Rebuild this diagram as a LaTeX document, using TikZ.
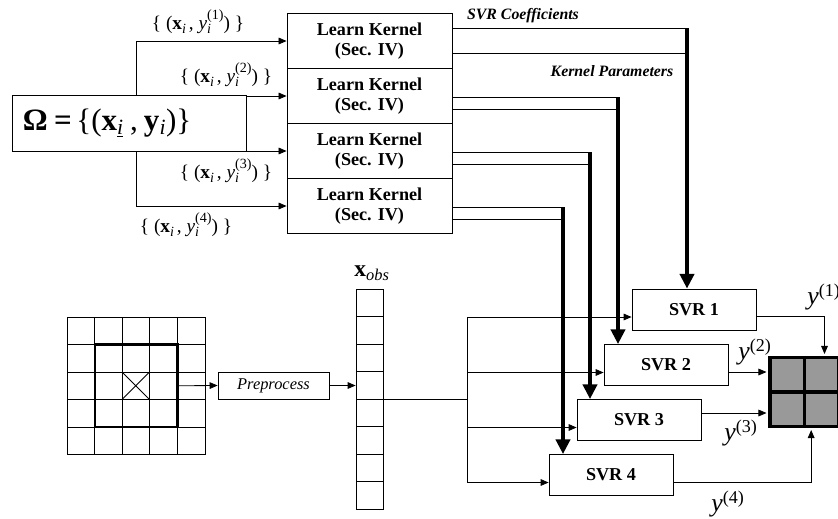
\documentclass[tikz,border=0pt]{standalone}
\usepackage{fontspec}
\setmainfont{Liberation Serif}
\usetikzlibrary{arrows.meta}

\newcommand{\yisup}[1]{\textit{y}\rlap{\raisebox{-0.22em}{\fontsize{12}{13}\selectfont\textit{i}}}\raisebox{0.5em}{\fontsize{12}{13}\selectfont(#1)}}
\newcommand{\xisub}{\textbf{x}\raisebox{-0.22em}{\fontsize{12}{13}\selectfont\textit{i}}}

\tikzset{
  box/.style={draw, fill=white, inner sep=0pt},
  lkbox/.style={box, minimum width=4.95cm, minimum height=1.65cm, align=center, font=\fontsize{15.5}{17}\selectfont\bfseries},
  svrbox/.style={box, minimum width=3.72cm, minimum height=1.23cm, font=\fontsize{15.5}{18}\selectfont\bfseries},
  lbl/.style={inner sep=0pt, font=\fontsize{16.5}{18}\selectfont},
  ylbl/.style={inner sep=0pt, font=\fontsize{22}{24}\selectfont},
  tag/.style={inner sep=0pt, font=\fontsize{13.5}{16}\selectfont\bfseries\itshape},
  arr/.style={-{Triangle[length=2.4mm,width=2mm]}},
  fat/.style={-{Triangle[length=4.4mm,width=4.2mm]}, line width=4pt},
}

\begin{document}
\begin{tikzpicture}[x=0.03cm, y=-0.03cm, line width=0.7pt]
\useasboundingbox (0,0) rectangle (838,518);

% learn kernel
\foreach \n/\y in {1/41,2/96,3/151,4/206}
  \node[lkbox] (lk\n) at (369.5,\y) {Learn Kernel\\(Sec. IV)};

\coordinate (t1) at (136,41);
\coordinate (t4) at (136,206);
\draw (t1) -- (t4);
\foreach \n in {1,...,4}
  \draw[arr] (t1 |- lk\n.west) -- (lk\n.west);

\node[box, minimum width=7.02cm, minimum height=1.68cm, text width=6.36cm, align=left, inner xsep=0.33cm, font=\fontsize{26.5}{30}\selectfont] (om) at (129,123)
  {\textbf{Ω}\hspace{0.2em}\textbf{=}\hspace{0.15em}\{(\textbf{x}\textsubscript{\underline{\textit{i}}}\hspace{0.2em},\hspace{0.2em}\textbf{y}\textsubscript{\textit{i}})\}};

\node[lbl] (d1) at (198,22) {\{ (\xisub\hspace{0.15em}, \yisup{1}) \}};
\node[lbl] (d2) at (226,75) {\{ (\xisub\hspace{0.15em}, \yisup{2}) \}};
\node[lbl] (d3) at (226,171) {\{ (\xisub\hspace{0.15em}, \yisup{3}) \}};
\node[lbl] (d4) at (186,225) {\{ (\xisub\hspace{0.15em}, \yisup{4}) \}};

\node[tag] (coef) at (523,16) {SVR Coefficients};
\node[tag] (kpar) at (612,71) {Kernel Parameters};

% svr
\foreach \n/\x/\y in {1/694/309.5, 2/666/365, 3/639/420, 4/611/475}
  \node[svrbox] (svr\n) at (\x,\y) {SVR \n};

% image patch
\node[draw, inner sep=0pt, minimum size=4.125cm] (img) at (136.25,385.75) {};
\foreach \i in {1,...,4} {
  \draw (67+27.5*\i,317) -- (67+27.5*\i,454.5);
  \draw (67,317+27.5*\i) -- (204.5,317+27.5*\i);
}
\node[draw, inner sep=0pt, line width=2.2pt, minimum size=2.475cm] (win) at (img.center) {};
\draw (122,372) -- (149.5,399.5) (122,399.5) -- (149.5,372);

\node[box, minimum width=3.33cm, minimum height=0.81cm, font=\fontsize{14}{16}\selectfont\itshape] (pre) at (273.5,385.5) {Preprocess};
\draw[arr] (win.east) -- (pre.west);

\node[box, minimum width=0.81cm, minimum height=6.6cm] (xobs) at (369.5,399) {};
\foreach \i in {1,...,7}
  \draw (356,289+27.5*\i) -- (383,289+27.5*\i);
\node[inner sep=0pt, font=\fontsize{20}{22}\selectfont] (xlab) at (372,273) {\textbf{x}\textsubscript{\textit{obs}}};
\draw[arr] (pre.east) -- (pre.east -| xobs.west);

% inputs to svr
\coordinate (j) at (467,399);
\draw (xobs.east |- j) -- (j);
\foreach \n in {1,...,4} {
  \coordinate (i\n) at ([yshift=-2.25mm]svr\n.west);
  \draw[arr] (j |- i\n) -- (i\n);
}
\draw (j |- i1) -- (j |- i4);

% kernel outputs
\foreach \n/\x/\ya/\yb in {1/687/28/53, 2/618/97/109, 3/590/152/164, 4/563/207/219} {
  \coordinate (a\n) at (\x,\ya);
  \coordinate (b\n) at (\x,\yb);
  \draw (lk\n.east |- a\n) -- (a\n);
  \draw (lk\n.east |- b\n) -- (b\n);
  \draw[fat] (a\n) -- (a\n |- svr\n.north);
}

% output patch
\node[draw, fill=black!40, line width=3pt, inner sep=0pt, minimum size=2.07cm] (out) at (804.5,392) {};
\draw[line width=3pt] (out.north) -- (out.south) (out.west) -- (out.east);

\coordinate (o1) at ([yshift=-0.2cm]svr1.east);
\coordinate (o2) at ([yshift=-0.21cm]svr2.east);
\coordinate (o3) at ([yshift=0.21cm]svr3.east);
\coordinate (o4) at ([yshift=-0.21cm]svr4.east);
\draw[arr, shorten >=1.5pt] (o1) -| ([xshift=0.6cm]out.north);
\draw[arr, shorten >=1.5pt] (o2) -- (o2 -| out.west);
\draw[arr, shorten >=1.5pt] (o3) -- (o3 -| out.west);
\draw[arr, shorten >=1.5pt] (o4) -| ([xshift=0.2cm]out.south);

\node[ylbl] (y1) at (824,297) {\textit{y}\textsuperscript{(1)}};
\node[ylbl] (y2) at (755,352) {\textit{y}\textsuperscript{(2)}};
\node[ylbl] (y3) at (741,433) {\textit{y}\textsuperscript{(3)}};
\node[ylbl] (y4) at (728,504) {\textit{y}\textsuperscript{(4)}};
\end{tikzpicture}
\end{document}
